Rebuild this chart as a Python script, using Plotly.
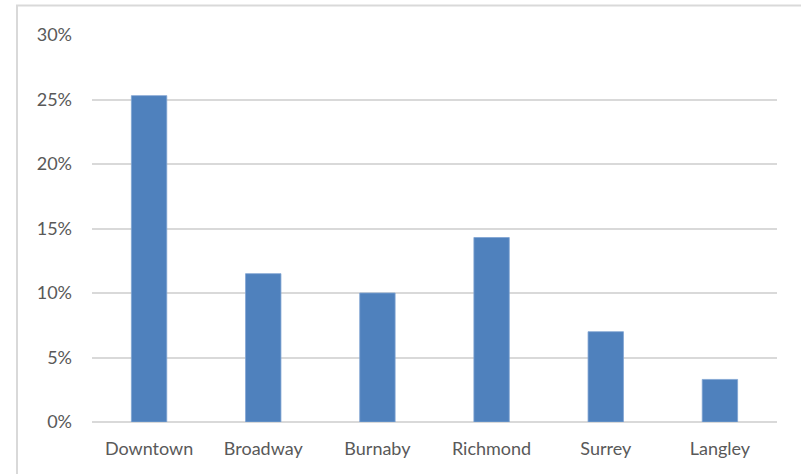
import plotly.graph_objects as go

regions = ["Downtown", "Broadway", "Burnaby", "Richmond", "Surrey", "Langley"]
shares = [0.253, 0.115, 0.100, 0.143, 0.070, 0.033]
y_ticks = [0, 0.05, 0.10, 0.15, 0.20, 0.25, 0.30]
y_tick_labels = ["0%", "5%", "10%", "15%", "20%", "25%", "30%"]

W, H = 801, 474
L, R, T, B = 92, 24, 35, 52
pw, ph = W - L - R, H - T - B

fig = go.Figure(
    go.Bar(
        x=regions,
        y=shares,
        marker=dict(color="#4F81BD", line=dict(color="#7FA3D2", width=0.8)),
        width=0.31,
        hoverinfo="skip",
    )
)

font = dict(family="Lato, Carlito, sans-serif", size=18, color="#595959")

fig.update_layout(
    width=W,
    height=H,
    margin=dict(l=L, r=R, t=T, b=B, pad=0),
    paper_bgcolor="white",
    plot_bgcolor="white",
    showlegend=False,
    font=font,
    bargap=0.69,
    xaxis=dict(
        showgrid=False,
        showline=False,
        zeroline=False,
        ticks="",
        ticklabelstandoff=14,
        tickfont=font,
        fixedrange=True,
    ),
    yaxis=dict(
        range=[0, 0.30],
        tickvals=y_ticks,
        ticktext=y_tick_labels,
        showgrid=True,
        gridcolor="#D9D9D9",
        gridwidth=1.6,
        zeroline=True,
        zerolinecolor="#D9D9D9",
        zerolinewidth=1.6,
        showline=False,
        ticks="",
        ticklabelstandoff=19,
        tickfont=font,
        fixedrange=True,
    ),
    shapes=[
        dict(
            type="rect",
            xref="paper",
            yref="paper",
            x0=(17 - L) / pw,
            x1=1 + (R + 20) / pw,
            y0=-(B + 20) / ph,
            y1=1 + (T - 5.5) / ph,
            line=dict(color="#D9D9D9", width=2),
            fillcolor="rgba(0,0,0,0)",
            layer="below",
        )
    ],
)

fig.write_html("out.html")
